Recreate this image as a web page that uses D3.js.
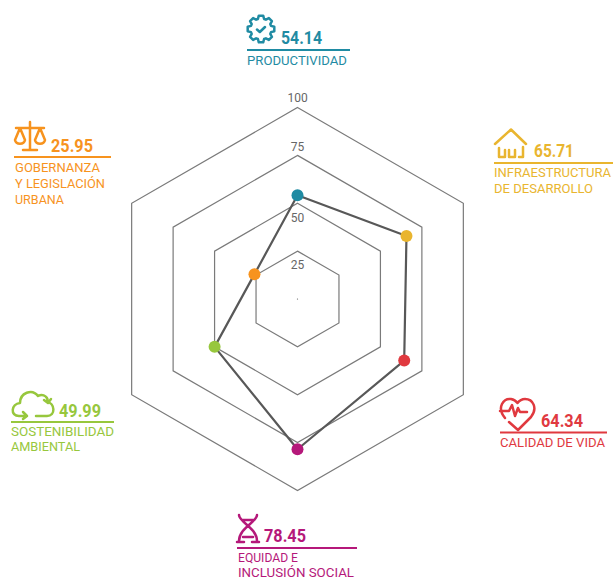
<!DOCTYPE html>
<html><head><meta charset="utf-8">
<script src="https://cdnjs.cloudflare.com/ajax/libs/d3/7.8.5/d3.min.js"></script>
<style>html,body{margin:0;background:#fff}svg{display:block}text{font-family:Roboto,sans-serif}</style>
</head><body><svg id="c" width="613" height="580"></svg>
<script>
const categories = ["PRODUCTIVIDAD","INFRAESTRUCTURA DE DESARROLLO","CALIDAD DE VIDA","EQUIDAD E INCLUSIÓN SOCIAL","SOSTENIBILIDAD AMBIENTAL","GOBERNANZA Y LEGISLACIÓN URBANA"];
const values = [54.14,65.71,64.34,78.45,49.99,25.95];
const valueLabels = ["54.14","65.71","64.34","78.45","49.99","25.95"];
const colors = ["#1f8ba3","#e9b52f","#e0393f","#b5187a","#97c73d","#f7931e"];
const ticks = [25,50,75,100];
const labelLines = [["PRODUCTIVIDAD"],["INFRAESTRUCTURA","DE DESARROLLO"],["CALIDAD DE VIDA"],["EQUIDAD E","INCLUSIÓN SOCIAL"],["SOSTENIBILIDAD","AMBIENTAL"],["GOBERNANZA","Y LEGISLACIÓN","URBANA"]];

const layout = [
 {x0:247,x1:350,rule:50,vx:281,vw:41,vb:44,lines:[[247,100,65]],ix:247,iy:15},
 {x0:494,x1:613,rule:163,vx:534,vw:40,vb:157,lines:[[494,117,177],[494,99,193]],ix:494,iy:128},
 {x0:500,x1:607,rule:432.5,vx:541,vw:42,vb:427,lines:[[500,105,447]],ix:500,iy:397},
 {x0:237,x1:357,rule:548,vx:264,vw:42,vb:542,lines:[[238,60,562],[238,116,577]],ix:237,iy:514},
 {x0:11,x1:114,rule:422,vx:59,vw:42,vb:417,lines:[[11,103,436],[11,69,451]],ix:12,iy:388},
 {x0:14,x1:111,rule:157,vx:51,vw:42,vb:152,lines:[[15,85,172],[15,90,188],[15,49,204]],ix:14,iy:122}
];
const gear=(()=>{let p="";const n=8;for(let i=0;i<n;i++){const a=i/n*2*Math.PI-Math.PI/2,w=.2;
 const q=(r,t)=>[(14+r*Math.cos(t)).toFixed(1),(14+r*Math.sin(t)).toFixed(1)].join(",");
 p+=(i?"L":"M")+q(10.5,a-w*1.5)+"L"+q(13.5,a-w*.8)+"L"+q(13.5,a+w*.8)+"L"+q(10.5,a+w*1.5);}
 return p+"Z M10,14.5 L12.8,17 L18,12";})();
const icons = [
 gear,
 "M1,16 L17,1.5 L32,16 M5,29 L5,20 M5,29 L11,29 L11,22 M15,22 L15,29 L21,29 M21,29 L21,22 M25,29 L29,29 L29,19",
 "M5,21 C-4,10 4,1 11,2 C14,2.5 16,4 17.5,6 C19,4 22,2 25,2 C33,2 38,11 31,20 L18,33 L9,25 M0,14 L9,14 L12,8 L15,19 L18,11 L20,15 L27,15",
 "M2,1 C2,8 20,14 20,27 M20,1 C20,8 2,14 2,27 M5,6 L17,6 M6,23 L16,23 M0,28 L7,28 M15,28 L22,28",
 "M7,28 C-2,28 -1,16 8,15 C8,5 20,0 26,8 C32,5 37,10 35,14 C43,15 44,28 35,28 L24,28 M15,28 L7,28 M11,24 L15,28 L11,31 M32,12 L36,15 L39,11",
 "M16,0 L16,27 M9,28 L23,28 M2,6 L30,6 M6,6 L1,18 C2,23 10,23 11,18 L6,6 M26,6 L21,18 C22,23 30,23 31,18 L26,6"
];

const svg = d3.select("#c");
const cx=297.5, cy=299;
const r = d3.scaleLinear().domain([0,100]).range([0,191.5]);
const ang = d3.scalePoint().domain(d3.range(categories.length+1)).range([0,2*Math.PI]);
const radial = d3.lineRadial().angle((d,i)=>ang(i)).radius(d=>r(d)).curve(d3.curveLinearClosed);
const g = svg.append("g").attr("transform",`translate(${cx},${cy})`);

g.selectAll(".grid").data(ticks).join("path").attr("class","grid")
 .attr("d",t=>radial(categories.map(()=>t)))
 .attr("fill","none").attr("stroke","#7a7a7a").attr("stroke-width",1.2);
const tickOffset={25:-30,50:-77,75:-148,100:-197};
g.selectAll(".tick").data(ticks).join("text").attr("class","tick")
 .attr("x",0).attr("y",t=>tickOffset[t]).attr("text-anchor","middle")
 .attr("font-size",12).attr("fill","#666").text(t=>t);
g.append("circle").attr("r",.6).attr("fill","#555");
g.append("path").attr("d",radial(values)).attr("fill","none").attr("stroke","#585858").attr("stroke-width",2.2).attr("stroke-linejoin","round");
g.selectAll(".dot").data(values).join("circle").attr("class","dot")
 .attr("cx",(d,i)=>r(d)*Math.sin(ang(i))).attr("cy",(d,i)=>-r(d)*Math.cos(ang(i)))
 .attr("r",6).attr("fill",(d,i)=>colors[i]);

categories.forEach((c,i)=>{
 const L=layout[i], col=colors[i], s=svg.append("g");
 s.append("path").attr("transform",`translate(${L.ix},${L.iy})`).attr("d",icons[i])
  .attr("fill","none").attr("stroke",col).attr("stroke-width",2.5).attr("stroke-linecap","round").attr("stroke-linejoin","round");
 s.append("line").attr("x1",L.x0).attr("x2",L.x1).attr("y1",L.rule).attr("y2",L.rule).attr("stroke",col).attr("stroke-width",2.2);
 s.append("text").attr("x",L.vx).attr("y",L.vb).attr("font-size",18).attr("font-weight",700).attr("fill",col)
  .attr("textLength",L.vw).attr("lengthAdjust","spacingAndGlyphs").text(valueLabels[i]);
 labelLines[i].forEach((t,j)=>{
  const l=L.lines[j];
  s.append("text").attr("x",l[0]).attr("y",l[2]).attr("font-size",13).attr("font-weight",400).attr("fill",col)
   .attr("textLength",l[1]).attr("lengthAdjust","spacingAndGlyphs").text(t);
 });
});
</script></body></html>
